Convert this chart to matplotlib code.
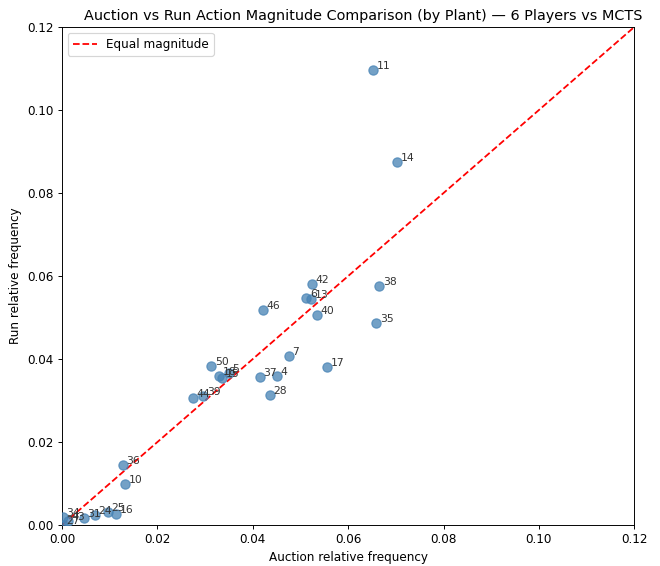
import matplotlib.pyplot as plt
import numpy as np

plants = ["11", "14", "42", "38", "6", "13", "40", "35", "46", "7", "17", "50",
          "18", "15", "5", "37", "4", "28", "44", "39", "36", "10", "25", "16",
          "24", "31", "34", "43", "27"]
auction_freq = [0.0652, 0.0703, 0.0524, 0.0665, 0.0512, 0.0522, 0.0535, 0.0659,
                0.0422, 0.0476, 0.0556, 0.0313, 0.0330, 0.0335, 0.0350, 0.0415,
                0.0451, 0.0436, 0.0275, 0.0296, 0.0128, 0.0132, 0.0096, 0.0113,
                0.0069, 0.0046, 0.0002, 0.0013, 0.0002]
run_freq = [0.1096, 0.0875, 0.0581, 0.0576, 0.0547, 0.0545, 0.0506, 0.0487,
            0.0518, 0.0407, 0.0381, 0.0383, 0.0358, 0.0355, 0.0366, 0.0357,
            0.0359, 0.0313, 0.0306, 0.0311, 0.0145, 0.0099, 0.0031, 0.0027,
            0.0024, 0.0017, 0.0019, 0.0010, 0.0000]

lim = 0.12
dpi = 86

fig = plt.figure(figsize=(660 / dpi, 566 / dpi), dpi=dpi)
ax = fig.add_axes([0.094, 0.0724, 0.867, 0.8798])

ax.scatter(auction_freq, run_freq, s=60, color="steelblue", alpha=0.75, zorder=3)
for name, x, y in zip(plants, auction_freq, run_freq):
    ax.annotate(name, (x, y), xytext=(3, 1), textcoords="offset points",
                fontsize=9, color="#333333", zorder=4)

ax.plot([0, lim], [0, lim], "r--", label="Equal magnitude", zorder=2)

ax.set_xlim(0, lim)
ax.set_ylim(0, lim)
ax.set_xlabel("Auction relative frequency")
ax.set_ylabel("Run relative frequency")
ax.set_title("Auction vs Run Action Magnitude Comparison (by Plant) \u2014 6 Players vs MCTS",
             x=0.527)
ax.legend(loc="upper left")

fig.savefig("out.png", dpi=dpi)
